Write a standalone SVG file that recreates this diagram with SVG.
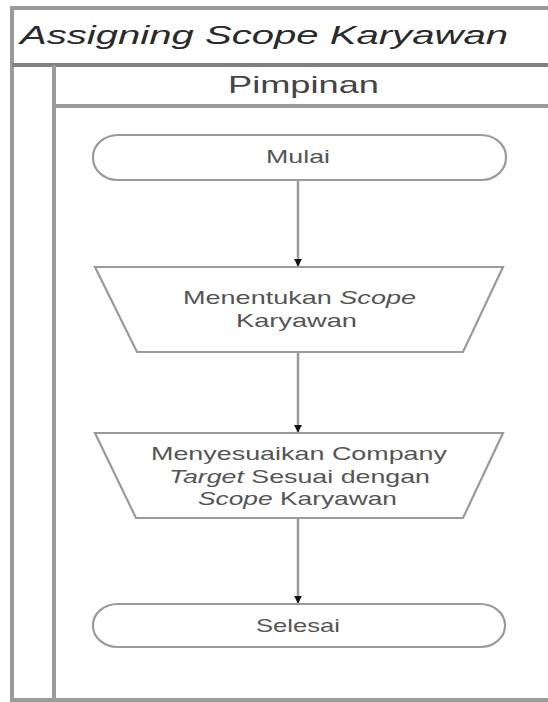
<svg xmlns="http://www.w3.org/2000/svg" width="548" height="702" viewBox="0 0 548 702">
<style>
text{font-family:"Liberation Sans",Arial,sans-serif;fill:#3a3a3a;}
.title{font-size:26px;font-style:italic;fill:#2a2a2a;}
.lane{font-size:24px;fill:#444;}
.lbl{font-size:19px;fill:#555;}
.it{font-style:italic;}
.frame{stroke:#9a9a9a;stroke-width:4;fill:none;}
.node{fill:#fff;stroke:#9a9a9a;stroke-width:2.2;}
.conn{stroke:#9a9a9a;stroke-width:2.5;fill:none;}
</style>
<defs>
<marker id="arrow" viewBox="0 0 10 10" refX="9" refY="5" markerWidth="3.2" markerHeight="3.2" orient="auto" markerUnits="strokeWidth">
<path d="M0,0 L10,5 L0,10 z" fill="#111"/>
</marker>
</defs>
<rect width="548" height="702" fill="#fff"/>
<g id="pool">
<line class="frame" x1="12" y1="8" x2="548" y2="8"/>
<line class="frame" x1="12" y1="6" x2="12" y2="702"/>
<line class="frame" x1="12" y1="65" x2="548" y2="65" style="stroke:#808080"/>
<line class="frame" x1="12" y1="700" x2="548" y2="700"/>
<text class="title" x="20" y="44" textLength="488" lengthAdjust="spacingAndGlyphs">Assigning Scope Karyawan</text>
</g>
<g id="lane-pimpinan">
<line class="frame" x1="54" y1="65" x2="54" y2="702"/>
<line class="frame" x1="54" y1="106" x2="548" y2="106"/>
<text class="lane" x="303.5" y="93" text-anchor="middle" textLength="151" lengthAdjust="spacingAndGlyphs">Pimpinan</text>
</g>
<g id="connectors">
<line class="conn" x1="298" y1="180" x2="298" y2="266" marker-end="url(#arrow)"/>
<line class="conn" x1="298" y1="352" x2="298" y2="432" marker-end="url(#arrow)"/>
<line class="conn" x1="298" y1="518" x2="298" y2="603" marker-end="url(#arrow)"/>
</g>
<g id="mulai">
<rect class="node" x="93" y="135" width="413" height="45" rx="25" ry="22"/>
<text class="lbl" x="298" y="163" text-anchor="middle" textLength="64" lengthAdjust="spacingAndGlyphs">Mulai</text>
</g>
<g id="menentukan">
<polygon class="node" points="95,267 503,267 463,352 137,352"/>
<text class="lbl" x="299.5" y="304" text-anchor="middle" textLength="233" lengthAdjust="spacingAndGlyphs">Menentukan <tspan class="it">Scope</tspan></text>
<text class="lbl" x="296.5" y="327" text-anchor="middle" textLength="121" lengthAdjust="spacingAndGlyphs">Karyawan</text>
</g>
<g id="menyesuaikan">
<polygon class="node" points="95,433 503,433 463,518 136,518"/>
<text class="lbl" x="299" y="460" text-anchor="middle" textLength="296" lengthAdjust="spacingAndGlyphs">Menyesuaikan Company</text>
<text class="lbl" x="299.5" y="483" text-anchor="middle" textLength="261" lengthAdjust="spacingAndGlyphs"><tspan class="it">Target</tspan> Sesuai dengan</text>
<text class="lbl" x="297.5" y="505" text-anchor="middle" textLength="199" lengthAdjust="spacingAndGlyphs"><tspan class="it">Scope</tspan> Karyawan</text>
</g>
<g id="selesai">
<rect class="node" x="93" y="604" width="412" height="43" rx="25" ry="21"/>
<text class="lbl" x="298" y="632" text-anchor="middle" textLength="84" lengthAdjust="spacingAndGlyphs">Selesai</text>
</g>
</svg>
